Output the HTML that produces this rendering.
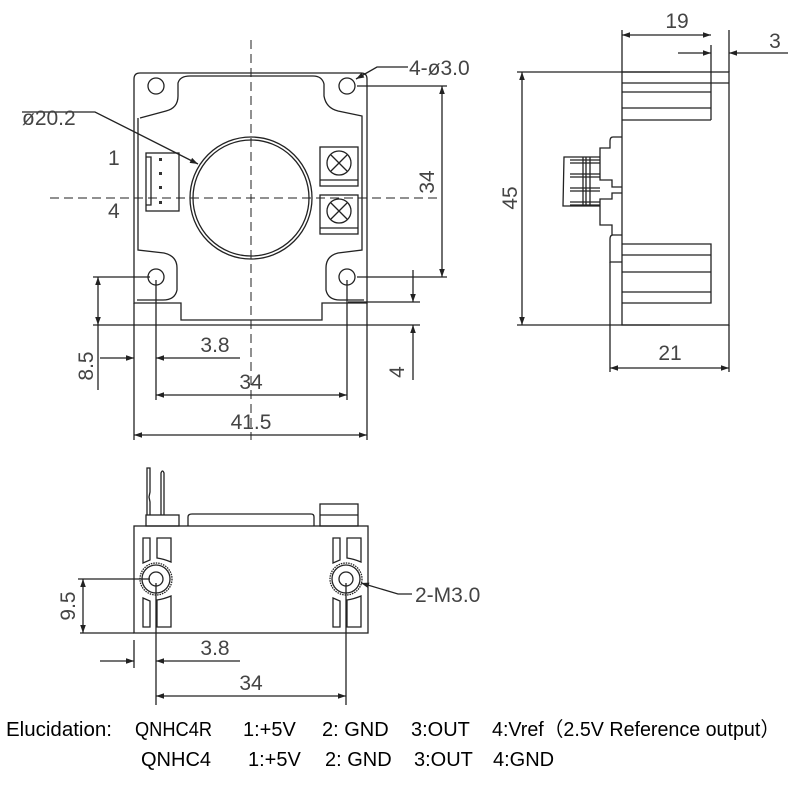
<!DOCTYPE html>
<html><head><meta charset="utf-8"><style>
body{margin:0;background:#fff;}
svg{display:block;}
.t{font-family:"Liberation Sans",sans-serif;font-size:21px;fill:#444;}
.b{font-family:"Liberation Sans","Noto Sans CJK SC",sans-serif;font-size:20px;fill:#000;}
</style></head><body>
<svg width="800" height="800" viewBox="0 0 800 800" xmlns="http://www.w3.org/2000/svg">
<defs>
<marker id="a" viewBox="0 0 10 10" refX="10" refY="5" markerWidth="12" markerHeight="8" orient="auto-start-reverse" markerUnits="userSpaceOnUse"><path d="M0,1.5 L10,5 L0,8.5 Z" fill="#222"/></marker>
</defs>
<g fill="none" stroke="#222" stroke-width="1.3">
<line x1="251" y1="40" x2="251" y2="440" stroke-dasharray="9,5" stroke-width="1"/>
<line x1="50" y1="198" x2="440" y2="198" stroke-dasharray="9,5" stroke-width="1"/>
<path d="M140,73 L361,73 Q367,73 367,79 L367,303 L322,303 L322,320 L181,320 L181,303 L134,303 L134,79 Q134,73 140,73 Z"/>
<path d="M140,118 L166,111 Q178,108 178,96 L178,83 Q180,76 190,76 L313,76 Q322,76 324,84 L324,96 Q326,108 338,111 L362,116 L362,250 L338,253 Q326,256 326,268 L326,290 Q328,300 340,300 L364,300 M138,118 L138,250 L164,253 Q177,256 177,268 L177,290 Q175,300 163,300 L137,300"/>
<circle cx="156" cy="86" r="8"/><circle cx="347" cy="86" r="8"/>
<circle cx="156" cy="277" r="8"/><circle cx="347" cy="277" r="8"/>
<circle cx="251" cy="198" r="61"/><circle cx="251" cy="198" r="58"/>
<rect x="146" y="153" width="33" height="58"/>
<path d="M146,157 L151,157 L151,205 L146,205"/>
<g fill="#333" stroke="none"><rect x="159" y="158" width="3" height="3"/><rect x="159" y="172" width="3" height="3"/><rect x="159" y="186" width="3" height="3"/><rect x="159" y="201" width="3" height="3"/></g>
<rect x="320" y="147" width="38" height="39"/><line x1="320" y1="180" x2="358" y2="180"/>
<circle cx="339" cy="163" r="12"/><path d="M331,155 L347,171 M347,155 L331,171"/>
<rect x="320" y="195" width="38" height="39"/><line x1="320" y1="228" x2="358" y2="228"/>
<circle cx="339" cy="211" r="12"/><path d="M331,203 L347,219 M347,203 L331,219"/>
<path d="M22,112 L95,112 L198,164" marker-end="url(#a)"/>
<path d="M408,67 L377,67 L356,79" marker-end="url(#a)"/>
<path d="M357,86 L447,86 M357,277 L447,277"/>
<line x1="442" y1="86" x2="442" y2="277" marker-start="url(#a)" marker-end="url(#a)"/>
<path d="M348,302 L420,302 M340,325 L420,325"/>
<line x1="413" y1="270" x2="413" y2="302" marker-end="url(#a)"/>
<line x1="413" y1="380" x2="413" y2="325" marker-end="url(#a)"/>
<path d="M93,277 L150,277 M93,325 L340,325"/>
<line x1="98" y1="277" x2="98" y2="325" marker-start="url(#a)" marker-end="url(#a)"/>
<line x1="98" y1="325" x2="98" y2="390"/>
<path d="M134,303 L134,440 M367,303 L367,440 M156,280 L156,400 M347,280 L347,400"/>
<line x1="100" y1="358" x2="134" y2="358" marker-end="url(#a)"/>
<line x1="240" y1="358" x2="156" y2="358" marker-end="url(#a)"/>
<line x1="156" y1="395" x2="347" y2="395" marker-start="url(#a)" marker-end="url(#a)"/>
<line x1="134" y1="435" x2="367" y2="435" marker-start="url(#a)" marker-end="url(#a)"/>
<rect x="622" y="72" width="107" height="253"/>
<path d="M622,83 L729,83 M622,92 L711,92 M622,108 L711,108 M622,120 L711,120 M711,45 L711,120 M729,30 L729,72 M622,30 L622,72"/>
<path d="M622,244 L711,244 L711,303 L622,303 M622,255 L711,255 M622,272 L711,272 M622,292 L711,292"/>
<path d="M622,137 L613,137 Q610,137 610,141 L610,148 L600,148 L600,180 L612,180 L612,187 L622,187 M622,193 L612,193 L612,199 L600,199 L600,225 L612,225 L612,235 M622,235 L613,235 Q610,235 610,239 L610,262 L622,262"/>
<path d="M600,157 L564,157 L563,206 L600,206 M570,160 L600,160 M570,163 L600,163 M570,174 L600,174 M570,177 L600,177 M570,188 L600,188 M570,191 L600,191 M570,202 L600,202 M570,205 L600,205 M583,157 L583,206 M586,157 L586,206 M590,157 L590,206"/>
<line x1="622" y1="35" x2="711" y2="35" marker-start="url(#a)" marker-end="url(#a)"/>
<line x1="678" y1="53" x2="711" y2="53" marker-end="url(#a)"/>
<line x1="788" y1="53" x2="729" y2="53" marker-end="url(#a)"/>
<path d="M517,72 L670,72 M517,325 L670,325"/>
<line x1="522" y1="72" x2="522" y2="325" marker-start="url(#a)" marker-end="url(#a)"/>
<path d="M610,262 L610,372 M729,325 L729,372"/>
<line x1="610" y1="368" x2="729" y2="368" marker-start="url(#a)" marker-end="url(#a)"/>
<rect x="134" y="526" width="234" height="107"/>
<path d="M147,515 L147,468 L150,468 L150,492 L149,497 L150,502 L150,515 M161,515 L161,473 Q162.5,469 164,473 L164,515"/>
<rect x="146" y="515" width="33" height="11"/>
<path d="M188,526 L188,517 Q188,514 192,514 L311,514 Q314,514 314,517 L314,526"/>
<rect x="320" y="504" width="38" height="22"/><line x1="320" y1="515" x2="358" y2="515"/>
<g id="L">
<path d="M143,538 L150,538 L150,560 L143,563 Z M157,538 L171,538 L171,562 Q164,559 157,558 Z M143,598 L150,601 L150,627 L143,627 Z M157,600 Q164,599 171,596 L171,627 L157,627 Z"/>
<circle cx="156" cy="579" r="16" stroke-dasharray="1.5,1"/><circle cx="156" cy="579" r="14"/><circle cx="156" cy="579" r="7"/>
</g>
<use href="#L" x="190"/>
<path d="M78,579 L150,579 M80,633 L134,633 M134,640 L134,668 M156,583 L156,705 M346,583 L346,705"/>
<line x1="83" y1="579" x2="83" y2="633" marker-start="url(#a)" marker-end="url(#a)"/>
<line x1="100" y1="661" x2="134" y2="661" marker-end="url(#a)"/>
<line x1="240" y1="661" x2="156" y2="661" marker-end="url(#a)"/>
<line x1="156" y1="696" x2="346" y2="696" marker-start="url(#a)" marker-end="url(#a)"/>
<path d="M412,594 L398,594 L361,583" marker-end="url(#a)"/>
</g>
<text class="t" x="22" y="125">ø20.2</text>
<text class="t" x="409" y="75">4-ø3.0</text>
<text class="t" x="108" y="165">1</text>
<text class="t" x="108" y="218">4</text>
<text class="t" transform="translate(434,182) rotate(-90)" text-anchor="middle">34</text>
<text class="t" transform="translate(404,372) rotate(-90)" text-anchor="middle">4</text>
<text class="t" transform="translate(93,366) rotate(-90)" text-anchor="middle">8.5</text>
<text class="t" x="215" y="352" text-anchor="middle">3.8</text>
<text class="t" x="251" y="389" text-anchor="middle">34</text>
<text class="t" x="251" y="429" text-anchor="middle">41.5</text>
<text class="t" x="677" y="28" text-anchor="middle">19</text>
<text class="t" x="775" y="48" text-anchor="middle">3</text>
<text class="t" transform="translate(517,198) rotate(-90)" text-anchor="middle">45</text>
<text class="t" x="670" y="360" text-anchor="middle">21</text>
<text class="t" transform="translate(75,606) rotate(-90)" text-anchor="middle">9.5</text>
<text class="t" x="215" y="655" text-anchor="middle">3.8</text>
<text class="t" x="251" y="690" text-anchor="middle">34</text>
<text class="t" x="415" y="602">2-M3.0</text>
<g class="b">
<text x="6" y="736" textLength="106" lengthAdjust="spacingAndGlyphs">Elucidation:</text>
<text x="135" y="736" textLength="77" lengthAdjust="spacingAndGlyphs">QNHC4R</text>
<text x="243" y="736">1:+5V</text>
<text x="322" y="736">2: GND</text>
<text x="411" y="736">3:OUT</text>
<text x="492" y="736" textLength="288" lengthAdjust="spacingAndGlyphs">4:Vref（2.5V Reference output）</text>
<text x="141" y="766">QNHC4</text>
<text x="248" y="766">1:+5V</text>
<text x="325" y="766">2: GND</text>
<text x="414" y="766">3:OUT</text>
<text x="493" y="766">4:GND</text>
</g>
</svg>
</body></html>
